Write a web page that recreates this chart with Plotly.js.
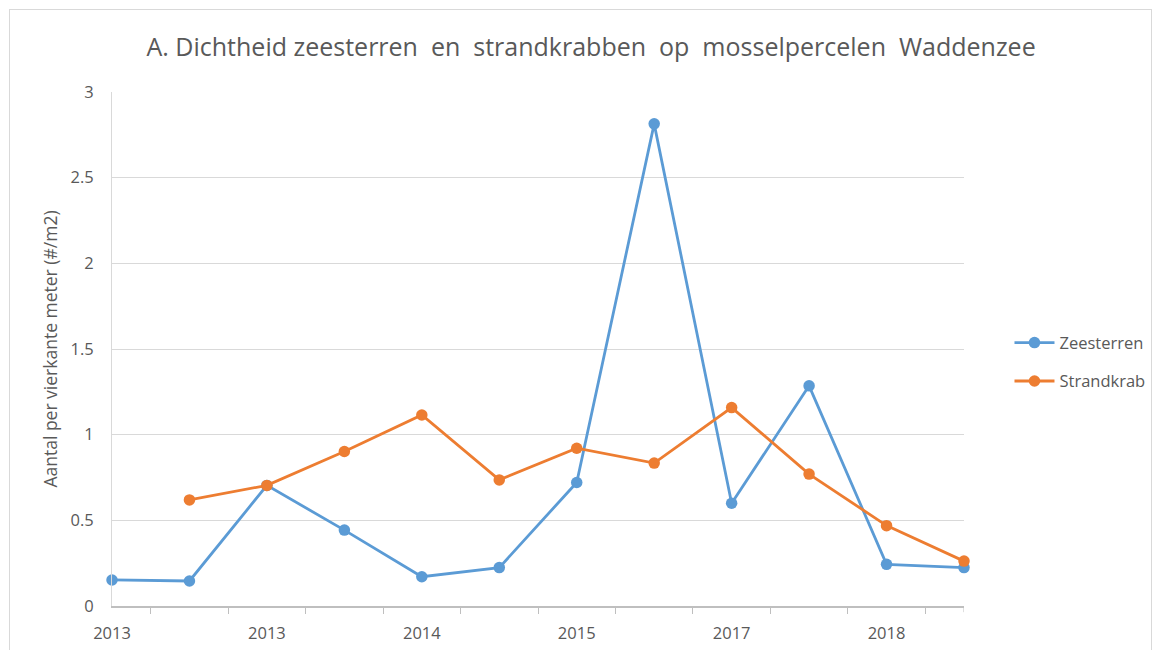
<!DOCTYPE html>
<html>
<head>
<meta charset="utf-8">
<script src="https://cdn.plot.ly/plotly-3.0.1.min.js"></script>
<style>
  html, body { margin: 0; padding: 0; background: #ffffff; }
  #wrap { position: relative; width: 1159px; height: 650px; }
  #chart { width: 1159px; height: 650px; }
  #frame { position: absolute; left: 9px; top: 9px; width: 1141px; height: 660px;
           border: 1px solid #d9d9d9; pointer-events: none; }
</style>
</head>
<body>
<div id="wrap">
  <div id="chart"></div>
  <div id="frame"></div>
</div>
<script>
// Sampling moments (12 surveys); only every other one carries a label
const samples = [0, 1, 2, 3, 4, 5, 6, 7, 8, 9, 10, 11];
const tickPositions = [0, 2, 4, 6, 8, 10];
const tickLabels = ['2013', '2013', '2014', '2015', '2017', '2018'];

// Density (#/m2)
const zeesterren = [0.152, 0.146, 0.704, 0.443, 0.171, 0.224, 0.721, 2.814, 0.600, 1.285, 0.243, 0.224];
const strandkrab = [null, 0.619, 0.704, 0.902, 1.115, 0.736, 0.921, 0.834, 1.158, 0.770, 0.469, 0.262];

const seriesNames = ['Zeesterren', 'Strandkrab'];
const seriesColors = ['#5b9bd5', '#ed7d31'];

const traces = [zeesterren, strandkrab].map((vals, i) => ({
  x: samples,
  y: vals,
  name: seriesNames[i],
  legendgroup: 'g' + i,
  type: 'scatter',
  mode: 'lines+markers',
  connectgaps: false,
  cliponaxis: false,
  line: { color: seriesColors[i], width: 2.8 },
  marker: { color: seriesColors[i], size: 11.5 }
}));

const font = "'Open Sans', 'Noto Sans', sans-serif";
const lastX = samples[samples.length - 1];

const layout = {
  width: 1159,
  height: 650,
  paper_bgcolor: '#ffffff',
  plot_bgcolor: '#ffffff',
  margin: { l: 112, r: 195, t: 92, b: 44, autoexpand: false },
  font: { family: font, color: '#595959', size: 16 },
  title: {
    text: 'A. Dichtheid zeesterren  en  strandkrabben  op  mosselpercelen  Waddenzee',
    font: { family: font, size: 25, color: '#595959' },
    x: 0.51, xanchor: 'center', y: 0.927, yanchor: 'middle'
  },
  showlegend: true,
  legend: {
    xref: 'container', x: 0.871, xanchor: 'left', y: 0.475, yanchor: 'middle',
    font: { family: font, size: 16.5, color: '#595959' },
    bgcolor: 'rgba(0,0,0,0)', tracegroupgap: 14, itemwidth: 40
  },
  xaxis: {
    range: [0, lastX],
    tickvals: tickPositions,
    ticktext: tickLabels,
    ticks: '',
    showgrid: false,
    zeroline: false,
    showline: true,
    linecolor: '#bfbfbf',
    linewidth: 1.5,
    ticklabelstandoff: 12,
    tickfont: { family: font, size: 16.5, color: '#595959' },
    minor: { tick0: 0.5, dtick: 1, ticks: 'outside', ticklen: 6, tickcolor: '#bfbfbf', tickwidth: 1, showgrid: false }
  },
  yaxis: {
    range: [0, 3],
    dtick: 0.5,
    showgrid: true,
    gridcolor: '#d9d9d9',
    gridwidth: 1,
    zeroline: false,
    showline: true,
    linecolor: '#d9d9d9',
    linewidth: 1,
    ticks: '',
    ticklabelstandoff: 14,
    tickfont: { family: font, size: 16.5, color: '#595959' },
    title: { text: 'Aantal per vierkante meter (#/m2)', font: { family: font, size: 17.5, color: '#595959' }, standoff: 8 }
  },
  shapes: [{
    type: 'line', xref: 'x', yref: 'paper',
    x0: lastX, x1: lastX, y0: 0, y1: -0.012,
    line: { color: '#bfbfbf', width: 1 }
  }]
};

Plotly.newPlot('chart', traces, layout, { displayModeBar: false, staticPlot: true });
</script>
</body>
</html>
